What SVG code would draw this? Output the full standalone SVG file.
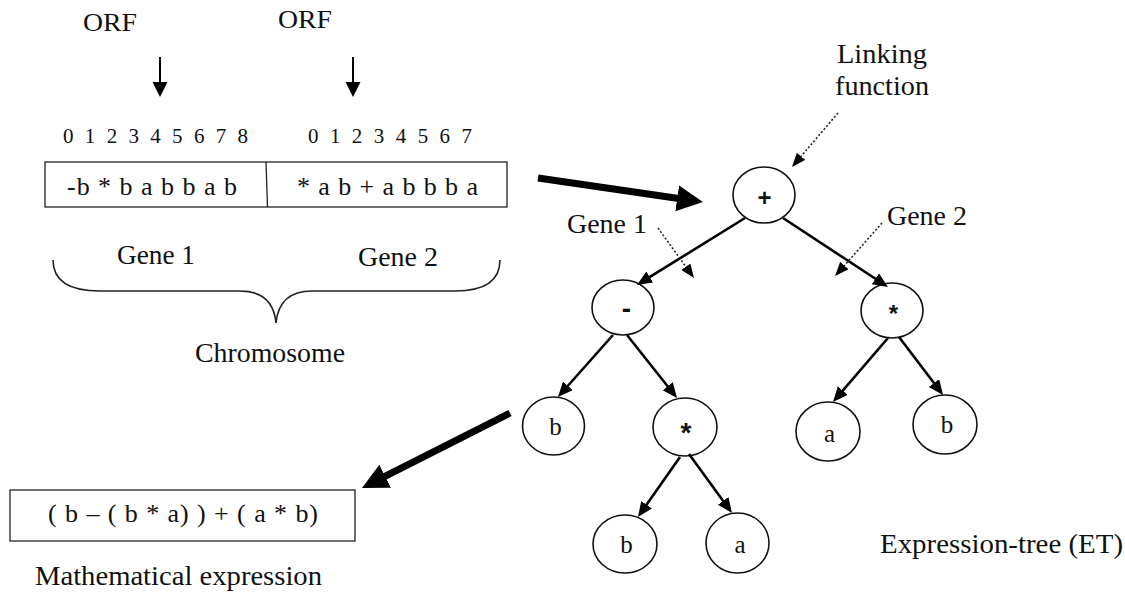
<svg xmlns="http://www.w3.org/2000/svg" width="1125" height="594" viewBox="0 0 1125 594">
  <style>
    text { fill: #111; font-family: "Liberation Serif", "DejaVu Serif", "Noto Serif", serif; }
    .op { font-family: "Liberation Sans", Arial, sans-serif; font-weight: bold; text-anchor: middle; }
    .leaf { text-anchor: middle; font-size: 25px; }
    .node { fill: #fff; stroke: #111; stroke-width: 1.6; }
    .box { fill: #fff; stroke: #222; stroke-width: 1.3; }
    .edge { stroke: #000; stroke-width: 2.6; fill: none; marker-end: url(#head); }
    .orf { stroke: #000; stroke-width: 2; fill: none; marker-end: url(#headSmall); }
    .bold { stroke: #000; stroke-width: 7; fill: none; marker-end: url(#headBig); }
    .dot { stroke: #222; stroke-width: 1.6; stroke-dasharray: 2 2; fill: none; marker-end: url(#headDot); }
  </style>
  <defs>
    <marker id="head" markerUnits="userSpaceOnUse" markerWidth="16" markerHeight="14" refX="5" refY="6.5" orient="auto">
      <path d="M0,0 L15,6.5 L0,13 z" fill="#000"/>
    </marker>
    <marker id="headSmall" markerUnits="userSpaceOnUse" markerWidth="16" markerHeight="16" refX="7" refY="7.5" orient="auto">
      <path d="M0,0 L15,7.5 L0,15 z" fill="#000"/>
    </marker>
    <marker id="headBig" markerUnits="userSpaceOnUse" markerWidth="28" markerHeight="28" refX="12" refY="13" orient="auto">
      <path d="M0,0 L26,13 L0,26 z" fill="#000"/>
    </marker>
    <marker id="headDot" markerUnits="userSpaceOnUse" markerWidth="15" markerHeight="12" refX="10" refY="5.5" orient="auto">
      <path d="M0,0 L14,5.5 L0,11 z" fill="#000"/>
    </marker>
  </defs>

  <rect width="1125" height="594" fill="#fff"/>

  <!-- chromosome: open reading frames, positions and the two genes -->
  <g id="chromosome">
    <text x="83" y="31" font-size="26" textLength="54" lengthAdjust="spacingAndGlyphs">ORF</text>
    <text x="278" y="28" font-size="26" textLength="54" lengthAdjust="spacingAndGlyphs">ORF</text>
    <text x="63" y="143" font-size="21" textLength="185" lengthAdjust="spacing">0 1 2 3 4 5 6 7 8</text>
    <text x="308" y="143" font-size="21" textLength="164" lengthAdjust="spacing">0 1 2 3 4 5 6 7</text>
    <rect class="box" x="45" y="162" width="462" height="45"/>
    <line x1="266" y1="162" x2="267.5" y2="207" stroke="#222" stroke-width="1.3"/>
    <text x="67" y="195" font-size="26" textLength="170" lengthAdjust="spacing">-b * b a b b a b</text>
    <text x="297" y="195" font-size="26" textLength="181" lengthAdjust="spacing">* a b + a b b b a</text>
    <text x="117" y="264" font-size="27" textLength="78" lengthAdjust="spacingAndGlyphs">Gene 1</text>
    <text x="358" y="266" font-size="27" textLength="80" lengthAdjust="spacingAndGlyphs">Gene 2</text>
    <path d="M53,260 C53,282 70,291 100,291 L240,291 C262,291 274,302 276,323 C278,302 290,291 312,291 L455,291 C482,291 500,282 500,260" fill="none" stroke="#222" stroke-width="1.6"/>
    <text x="195" y="362" font-size="27" textLength="150" lengthAdjust="spacingAndGlyphs">Chromosome</text>
  </g>

  <!-- expression tree nodes -->
  <g id="n-root"><ellipse class="node" cx="764" cy="195" rx="31" ry="28"/><text class="op" x="764.5" y="205.5" font-size="24">+</text></g>
  <g id="n-minus"><ellipse class="node" cx="623" cy="307.5" rx="31" ry="27.5"/><text class="op" x="626.5" y="318" font-size="28">-</text></g>
  <g id="n-times-r"><ellipse class="node" cx="892" cy="310.5" rx="31" ry="27.5"/><text class="op" x="893.5" y="321.5" font-size="24">*</text></g>
  <g id="n-b1"><ellipse class="node" cx="553.5" cy="426" rx="31" ry="29"/><text class="leaf" x="555.5" y="435">b</text></g>
  <g id="n-times-m"><ellipse class="node" cx="685" cy="427" rx="32" ry="29"/><text class="op" x="686" y="442" font-size="28">*</text></g>
  <g id="n-a1"><ellipse class="node" cx="828" cy="431.5" rx="32" ry="29.5"/><text class="leaf" x="829.5" y="442">a</text></g>
  <g id="n-b2"><ellipse class="node" cx="945" cy="424.5" rx="32" ry="29.5"/><text class="leaf" x="947" y="433">b</text></g>
  <g id="n-b3"><ellipse class="node" cx="625" cy="544" rx="32" ry="29"/><text class="leaf" x="626.5" y="553">b</text></g>
  <g id="n-a2"><ellipse class="node" cx="737.5" cy="543" rx="31.5" ry="30"/><text class="leaf" x="740" y="553">a</text></g>

  <!-- annotations -->
  <g id="labels" font-size="27">
    <text x="837" y="63" textLength="90" lengthAdjust="spacingAndGlyphs">Linking</text>
    <text x="835" y="95" textLength="94" lengthAdjust="spacingAndGlyphs">function</text>
    <text x="567" y="233" textLength="80" lengthAdjust="spacingAndGlyphs">Gene 1</text>
    <text x="887" y="225" textLength="80" lengthAdjust="spacingAndGlyphs">Gene 2</text>
    <text x="880" y="553" textLength="243" lengthAdjust="spacingAndGlyphs">Expression-tree (ET)</text>
  </g>

  <!-- mathematical expression -->
  <g id="expression">
    <rect class="box" x="10" y="490" width="345" height="51"/>
    <text x="48" y="522" font-size="26" textLength="270" lengthAdjust="spacing">( b – ( b * a) ) + ( a * b)</text>
    <text x="35" y="585" font-size="27" textLength="287" lengthAdjust="spacingAndGlyphs">Mathematical expression</text>
  </g>

  <!-- connectors -->
  <g id="connectors">
    <line class="orf" x1="160" y1="57" x2="160" y2="89"/>
    <line class="orf" x1="353" y1="57" x2="353" y2="89"/>
    <line class="bold" x1="538" y1="178" x2="689.1" y2="200"/>
    <line class="bold" x1="510" y1="413" x2="374.5" y2="481.7"/>
    <line class="edge" x1="745" y1="218" x2="645.5" y2="279.7"/>
    <line class="edge" x1="783" y1="218" x2="879.6" y2="281.5"/>
    <line class="edge" x1="613" y1="335" x2="564.6" y2="389.5"/>
    <line class="edge" x1="627" y1="335" x2="670.8" y2="390.2"/>
    <line class="edge" x1="680" y1="457" x2="643.7" y2="508.8"/>
    <line class="edge" x1="689" y1="454" x2="726.1" y2="504.9"/>
    <line class="edge" x1="888" y1="338" x2="839.5" y2="394.4"/>
    <line class="edge" x1="899" y1="337" x2="937" y2="387"/>
    <line class="dot" x1="838" y1="113" x2="794.6" y2="164"/>
    <line class="dot" x1="658" y1="228" x2="691.7" y2="274.8"/>
    <line class="dot" x1="882" y1="223" x2="837.7" y2="273"/>
  </g>
</svg>
